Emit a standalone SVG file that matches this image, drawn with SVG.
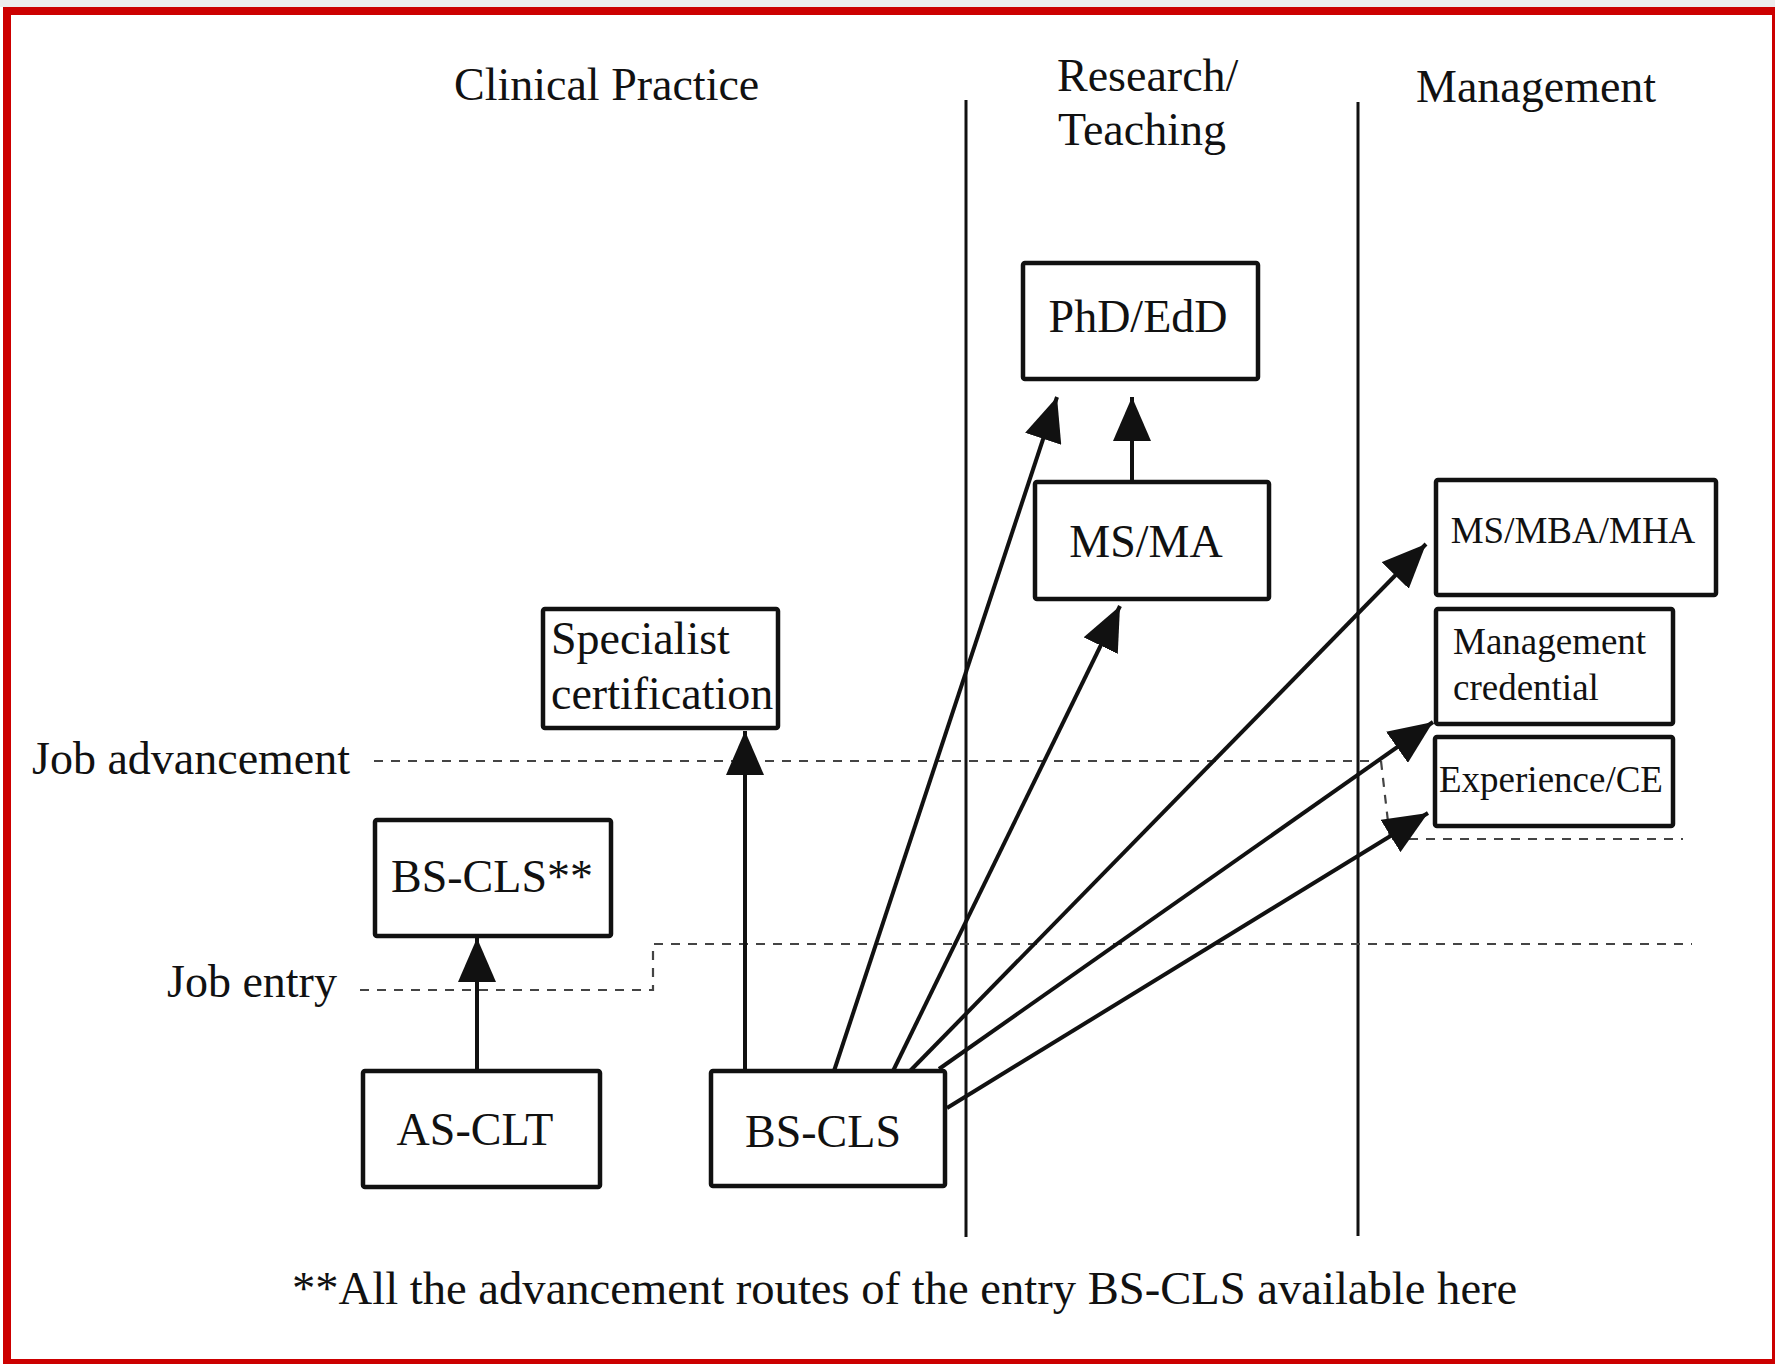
<svg xmlns="http://www.w3.org/2000/svg" width="1775" height="1364" viewBox="0 0 1775 1364">
<defs>
<style>
.node rect{fill:#fff;stroke:#111;stroke-width:4.5}
text{font-family:"Liberation Serif","Times New Roman",serif;fill:#111}
.t46{font-size:46px}
.t37{font-size:37px}
.mid{text-anchor:middle}
.arrow{stroke:#111;stroke-width:4;fill:none;marker-end:url(#ah)}
.div{stroke:#111;stroke-width:3;fill:none}
.dash{stroke:#444;stroke-width:2.2;stroke-dasharray:9 8;fill:none}
</style>
<marker id="ah" viewBox="0 0 44 38" refX="44" refY="19" markerWidth="44" markerHeight="38" markerUnits="userSpaceOnUse" orient="auto">
<path d="M0,0 L44,19 L0,38 z" fill="#111"/>
</marker>
</defs>
<rect x="0" y="0" width="1775" height="1364" fill="#fff"/>
<rect x="0" y="0" width="1775" height="7" fill="#ececec"/>
<!-- red frame -->
<rect x="3" y="7" width="1772" height="8" fill="#cc0000"/>
<rect x="3" y="7" width="8" height="1357" fill="#cc0000"/>
<rect x="1772" y="7" width="3" height="1357" fill="#cc0000"/>
<rect x="3" y="1359" width="1772" height="5" fill="#cc0000"/>

<!-- column headers and row labels -->
<g id="labels">
<text class="t46" x="454" y="100">Clinical Practice</text>
<text class="t46" x="1057" y="91">Research/</text>
<text class="t46" x="1058" y="145">Teaching</text>
<text class="t46" x="1416" y="102">Management</text>
<text class="t46" x="32" y="774">Job advancement</text>
<text class="t46" x="167" y="997">Job entry</text>
<text x="292" y="1304" style="font-size:46.6px">**All the advancement routes of the entry BS-CLS available here</text>
</g>

<!-- dividers and level lines -->
<g id="guides">
<path class="div" d="M966,100 V1237 M1358,102 V1236"/>
<path class="dash" d="M374,761 H1381"/>
<path class="dash" d="M1381,761 L1390,839" stroke-dasharray="6 6"/>
<path class="dash" d="M1392,839 H1683"/>
<path class="dash" d="M360,990 H653 V944 H1692"/>
</g>

<!-- nodes -->
<g id="phd" class="node"><rect x="1023" y="263" width="235" height="116" rx="2"/><text class="t46 mid" x="1138" y="332">PhD/EdD</text></g>
<g id="msma" class="node"><rect x="1035" y="482" width="234" height="117" rx="2"/><text class="t46 mid" x="1146" y="557">MS/MA</text></g>
<g id="msmba" class="node"><rect x="1436" y="480" width="280" height="115" rx="2"/><text class="t37 mid" x="1573" y="543">MS/MBA/MHA</text></g>
<g id="mgmtcred" class="node"><rect x="1436" y="609" width="237" height="115" rx="2"/><text class="t37" x="1453" y="654">Management</text><text class="t37" x="1453" y="700">credential</text></g>
<g id="experience" class="node"><rect x="1435" y="737" width="238" height="89" rx="2"/><text class="t37 mid" x="1551" y="792">Experience/CE</text></g>
<g id="specialist" class="node"><rect x="543" y="609" width="235" height="119" rx="2"/><text class="t46" x="551" y="654">Specialist</text><text class="t46" x="551" y="709">certification</text></g>
<g id="bscls2" class="node"><rect x="375" y="820" width="236" height="116" rx="2"/><text class="t46 mid" x="492" y="892">BS-CLS**</text></g>
<g id="asclt" class="node"><rect x="363" y="1071" width="237" height="116" rx="2"/><text class="t46 mid" x="475" y="1145">AS-CLT</text></g>
<g id="bscls" class="node"><rect x="711" y="1071" width="234" height="115" rx="2"/><text class="t46 mid" x="823" y="1147">BS-CLS</text></g>

<!-- connectors -->
<g id="connectors">
<line class="arrow" x1="477" y1="1071" x2="477" y2="938"/>
<line class="arrow" x1="745" y1="1071" x2="745" y2="731"/>
<line class="arrow" x1="834" y1="1071" x2="1057" y2="397"/>
<line class="arrow" x1="1132" y1="482" x2="1132" y2="397"/>
<line class="arrow" x1="893" y1="1071" x2="1120" y2="606"/>
<line class="arrow" x1="910" y1="1071" x2="1426" y2="544"/>
<line class="arrow" x1="939" y1="1069" x2="1433" y2="722"/>
<line class="arrow" x1="947" y1="1108" x2="1428" y2="813"/>
</g>
</svg>
